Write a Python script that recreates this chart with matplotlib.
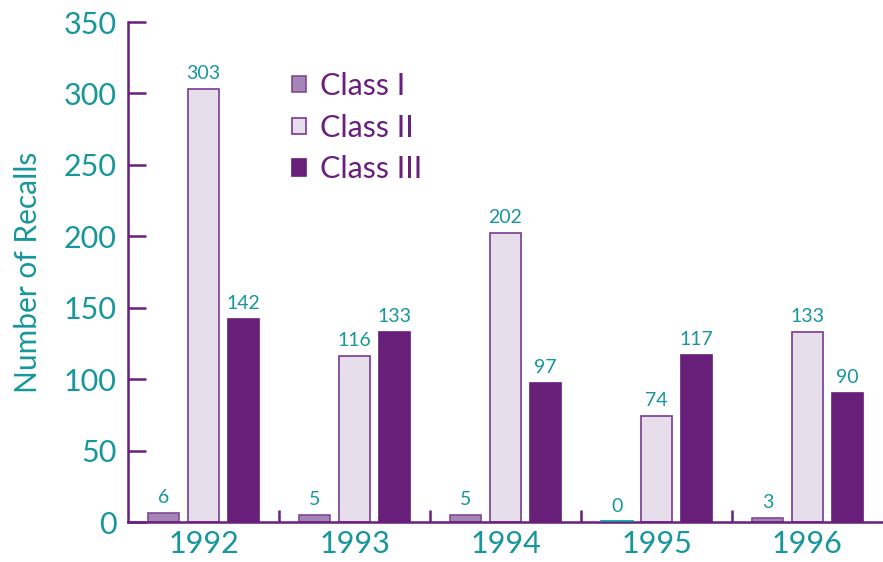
import matplotlib.pyplot as plt
import numpy as np

plt.rcParams['font.family'] = ['Lato', 'DejaVu Sans']

years = ['1992', '1993', '1994', '1995', '1996']
classes = ['Class I', 'Class II', 'Class III']
class_1 = [6, 5, 5, 0, 3]
class_2 = [303, 116, 202, 74, 133]
class_3 = [142, 133, 97, 117, 90]

purple = '#691f7c'
teal = '#17979b'
fills = ['#a585b6', '#e6dfeb', '#671f79']
edges = ['#7e4a94', '#7a3a90', '#671f79']

fig = plt.figure(figsize=(8.83, 5.62), dpi=100)
ax = fig.add_axes([128 / 883, 40 / 562, 755 / 883, 500 / 562])

x = np.arange(len(years))
width = 0.21
step = 0.264
for i, (vals, name) in enumerate(zip([class_1, class_2, class_3], classes)):
    pos = x + (i - 1) * step
    bars = ax.bar(pos, vals, width, color=fills[i], edgecolor=edges[i],
                  linewidth=1.2, label=name, zorder=2)
    for p, v in zip(pos, vals):
        if v == 0:
            ax.plot([p - width / 2, p + width / 2], [0.6, 0.6], color=teal, lw=2, zorder=3)
        ax.text(p, v + 5, str(v), ha='center', va='bottom', color=teal, fontsize=14)

ax.set_xlim(-0.5, 4.5)
ax.set_ylim(0, 350)
ax.set_yticks(range(0, 351, 50))
ax.set_xticks(x)
ax.set_xticklabels(years)
ax.set_xticks(np.arange(0.5, 4.5, 1), minor=True)

for s in ['top', 'right']:
    ax.spines[s].set_visible(False)
for s in ['left', 'bottom']:
    ax.spines[s].set_color(purple)
    ax.spines[s].set_linewidth(1.8)

ax.tick_params(axis='y', direction='in', length=13, width=1.8, color=purple,
               labelcolor=teal, labelsize=22, pad=8)
ax.tick_params(axis='x', which='major', length=0, labelcolor=teal, labelsize=22, pad=6)
ax.tick_params(axis='x', which='minor', direction='in', length=9, width=1.8, color=purple)

ax.set_ylabel('Number of Recalls', color=teal, fontsize=21.5, labelpad=16)

leg = ax.legend(loc='upper left', bbox_to_anchor=(0.181, 0.955), frameon=False,
                fontsize=22, handlelength=0.45, handleheight=0.45, handletextpad=0.45,
                labelspacing=0.45)
for t in leg.get_texts():
    t.set_color(purple)

fig.savefig('out.png', dpi=100)
